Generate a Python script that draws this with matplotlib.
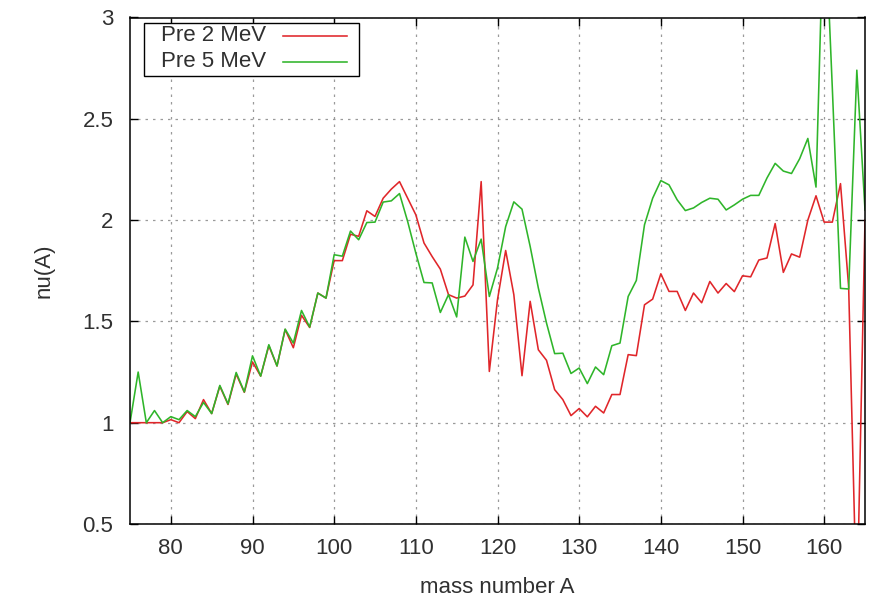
import matplotlib
matplotlib.use("Agg")
import matplotlib.pyplot as plt
import numpy as np
from matplotlib.ticker import FuncFormatter
from matplotlib.patches import Rectangle
from matplotlib.lines import Line2D

plt.rcParams['font.family'] = ['Liberation Sans', 'DejaVu Sans']

mass_number = list(range(75, 166))

pre_2mev = [
    1.00, 1.00, 1.00, 1.00, 1.00, 1.015, 1.00, 1.055, 1.02, 1.114,
    1.045, 1.18, 1.09, 1.24, 1.15, 1.30, 1.23, 1.38, 1.28, 1.46,
    1.37, 1.53, 1.47, 1.64, 1.615, 1.80, 1.80, 1.93, 1.92, 2.046,
    2.018, 2.108, 2.153, 2.19, 2.108, 2.026, 1.887, 1.82, 1.758, 1.632,
    1.615, 1.625, 1.68, 2.19, 1.253, 1.607, 1.85, 1.632, 1.232, 1.599,
    1.36, 1.308, 1.163, 1.114, 1.035, 1.07, 1.029, 1.081, 1.048, 1.139,
    1.139, 1.336, 1.331, 1.582, 1.61, 1.735, 1.648, 1.648, 1.554, 1.64,
    1.592, 1.697, 1.64, 1.687, 1.647, 1.725, 1.72, 1.803, 1.813, 1.983,
    1.742, 1.833, 1.817, 2.0, 2.12, 1.99, 1.99, 2.18, 1.67, 0.05,
    2.0,
]

pre_5mev = [
    1.00, 1.25, 1.00, 1.06, 1.00, 1.03, 1.015, 1.06, 1.03, 1.10,
    1.045, 1.184, 1.093, 1.248, 1.152, 1.33, 1.23, 1.385, 1.28, 1.462,
    1.393, 1.554, 1.472, 1.64, 1.615, 1.829, 1.822, 1.946, 1.903, 1.988,
    1.99, 2.089, 2.095, 2.131, 1.993, 1.837, 1.692, 1.69, 1.544, 1.632,
    1.522, 1.916, 1.796, 1.906, 1.623, 1.763, 1.968, 2.09, 2.054, 1.87,
    1.665, 1.492, 1.341, 1.343, 1.243, 1.27, 1.193, 1.275, 1.237, 1.38,
    1.393, 1.623, 1.702, 1.977, 2.108, 2.195, 2.174, 2.1, 2.047, 2.06,
    2.087, 2.108, 2.103, 2.05, 2.075, 2.103, 2.122, 2.122, 2.208, 2.28,
    2.242, 2.23, 2.303, 2.403, 2.163, 3.6, 2.65, 1.663, 1.66, 2.74,
    2.05,
]

series_labels = ["Pre 2 MeV", "Pre 5 MeV"]
series_colors = ['#e0262a', '#2fb52a']
x_ticks = [80, 90, 100, 110, 120, 130, 140, 150, 160]
y_ticks = [0.5, 1, 1.5, 2, 2.5, 3]

FS = 16
TXT = '#303030'

# axes placement in pixels
AX0, AX1, AY0, AY1 = 130.0, 865.0, 17.5, 524.0
W, H = 871.0, 600.0

fig = plt.figure(figsize=(W / 100, H / 100), dpi=100)
ax = fig.add_axes([AX0 / W, 1 - AY1 / H, (AX1 - AX0) / W, (AY1 - AY0) / H])

for vals, lab, col in zip([pre_2mev, pre_5mev], series_labels, series_colors):
    ax.plot(mass_number, vals, color=col, lw=1.15, label=lab)

ax.set_xlim(75, 165)
ax.set_ylim(0.5, 3)
ax.set_xticks(x_ticks)
ax.set_yticks(y_ticks)
ax.yaxis.set_major_formatter(FuncFormatter(lambda v, p: f"{v:g}"))

ax.grid(True, color='#9a9a9a', linestyle=(0, (2, 4)), linewidth=0.9)
ax.tick_params(direction='in', length=6, width=1, top=True, right=True,
               labelsize=FS, colors='black', labelcolor=TXT)
ax.tick_params(axis='x', pad=10)
ax.tick_params(axis='y', pad=12)
for s in ax.spines.values():
    s.set_linewidth(1.1)
    s.set_color('black')

ax.set_xlabel("mass number A", fontsize=FS, color=TXT, labelpad=13)
ax.set_ylabel("nu(A)", fontsize=FS, color=TXT, labelpad=20)


def axx(px):
    return (px - AX0) / (AX1 - AX0)


def axy(py):
    return (AY1 - py) / (AY1 - AY0)


# gnuplot-style key: text first, then line sample
box_l, box_r, box_t, box_b = 144, 359, 22.7, 76
ax.add_patch(Rectangle((axx(box_l), axy(box_b)), axx(box_r) - axx(box_l), axy(box_t) - axy(box_b),
                       transform=ax.transAxes, facecolor='white', edgecolor='black',
                       linewidth=1.0, zorder=5))
row_y = [35.5, 61.5]
for yy, lab, col in zip(row_y, series_labels, series_colors):
    ax.text(axx(161), axy(yy), lab, transform=ax.transAxes, fontsize=FS, color=TXT,
            ha='left', va='center', zorder=6)
    ax.add_line(Line2D([axx(283), axx(347)], [axy(yy), axy(yy)], transform=ax.transAxes,
                       color=col, lw=1.15, zorder=6))

fig.savefig("out.png", dpi=100)
